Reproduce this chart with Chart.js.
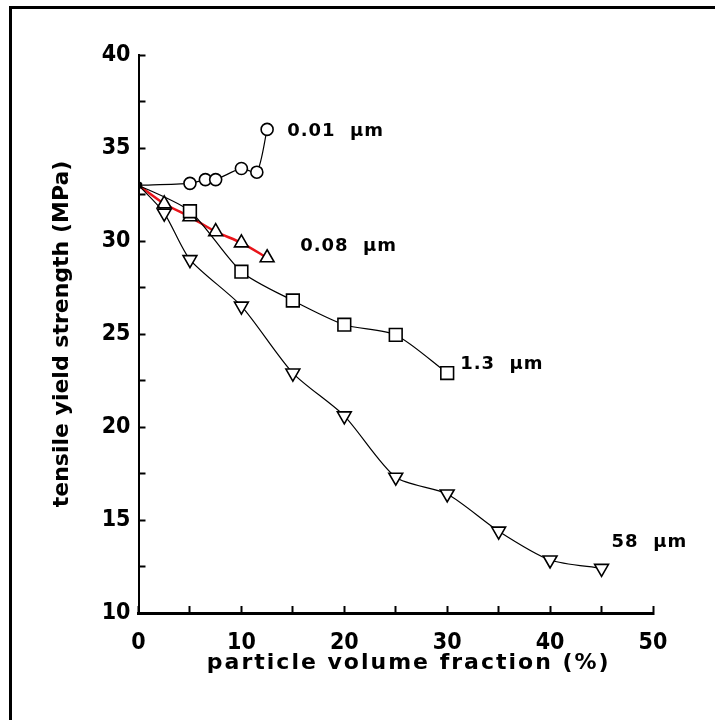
<!DOCTYPE html>
<html>
<head>
<meta charset="utf-8">
<title>tensile yield strength vs particle volume fraction</title>
<script src="https://cdn.jsdelivr.net/npm/chart.js@4.4.1/dist/chart.umd.min.js"></script>
<style>
  html, body { margin: 0; padding: 0; background: #fff; overflow: hidden; }
  #wrap { position: relative; width: 715px; height: 720px; overflow: hidden; }
  #frame {
    position: absolute; left: 9px; top: 6px; width: 720px; height: 730px;
    border-left: 3px solid #000; border-top: 3px solid #000; pointer-events: none;
  }
</style>
</head>
<body>
<div id="wrap">
  <canvas id="chartCanvas" width="715" height="720"></canvas>
  <div id="frame"></div>
</div>
<script>
// particle size series (x = volume fraction %, y = MPa)
const seriesNames = ['0.01 µm', '0.08 µm', '1.3 µm', '58 µm'];

const fracCircle = [0, 5, 6.5, 7.5, 10, 11.5, 12.5];
const yieldCircle = [33, 33.1, 33.3, 33.3, 33.9, 33.7, 36.0];

const fracTriUp = [0, 2.5, 5, 7.5, 10, 12.5];
const yieldTriUp = [33, 32.0, 31.3, 30.5, 29.9, 29.1];

const fracSquare = [0, 5, 10, 15, 20, 25, 30];
const yieldSquare = [33, 31.6, 28.35, 26.8, 25.5, 24.95, 22.9];

const fracTriDown = [0, 2.5, 5, 10, 15, 20, 25, 30, 35, 40, 45];
const yieldTriDown = [33, 31.5, 29.0, 26.5, 22.9, 20.6, 17.3, 16.4, 14.4, 12.85, 12.4];

const xTicks = [0, 10, 20, 30, 40, 50];
const yTicks = [10, 15, 20, 25, 30, 35, 40];

function toPoints(xs, ys) {
  return xs.map((x, i) => ({ x: x, y: ys[i] }));
}

function makeSet(name, xs, ys, style, size, extra) {
  return Object.assign({
    label: name,
    data: toPoints(xs, ys),
    showLine: true,
    borderColor: '#000',
    borderWidth: 1.2,
    tension: 0.25,
    pointStyle: style,
    pointRadius: (c) => c.dataIndex === 0 ? 3 : size,
    pointBackgroundColor: (c) => c.dataIndex === 0 ? '#000' : '#fff',
    pointBorderColor: '#000',
    pointBorderWidth: 1.6,
    pointHoverRadius: size
  }, extra || {});
}

// text next to the last point of every curve
const curveLabels = {
  id: 'curveLabels',
  afterDatasetsDraw(chart) {
    const ctx = chart.ctx;
    ctx.save();
    ctx.font = 'bold 18px "DejaVu Sans"';
    ctx.letterSpacing = '1px';
    ctx.fillStyle = '#000';
    ctx.textBaseline = 'middle';
    ctx.textAlign = 'left';
    chart.data.datasets.forEach((ds, i) => {
      const el = chart.getDatasetMeta(i).data;
      const last = el[el.length - 1];
      ctx.fillText(ds.label.replace(' ', '  '), last.x + ds.labelDx, last.y + ds.labelDy);
    });
    ctx.restore();
  }
};

// x axis title, spaced letters
const xTitle = {
  id: 'xTitle',
  afterDraw(chart) {
    const ctx = chart.ctx;
    const a = chart.chartArea;
    ctx.save();
    ctx.font = 'bold 22px "DejaVu Sans"';
    ctx.letterSpacing = '2px';
    ctx.fillStyle = '#000';
    ctx.textAlign = 'center';
    ctx.textBaseline = 'middle';
    ctx.fillText('particle volume fraction (%)', (a.left + a.right) / 2 + 13, a.bottom + 50);
    ctx.restore();
  }
};

const tickFont = { family: '"Liberation Sans Narrow", "DejaVu Sans Condensed", sans-serif', size: 23, weight: 'bold' };

const ctx = document.getElementById('chartCanvas').getContext('2d');
new Chart(ctx, {
  type: 'scatter',
  data: {
    datasets: [
      makeSet(seriesNames[0], fracCircle, yieldCircle, 'circle', 6, { labelDx: 20, labelDy: 2 }),
      makeSet(seriesNames[1], fracTriUp, yieldTriUp, 'triangle', 8, { borderColor: '#e8141a', borderWidth: 2.5, labelDx: 33, labelDy: -11, order: 1 }),
      makeSet(seriesNames[2], fracSquare, yieldSquare, 'rect', 9, { labelDx: 13, labelDy: -9 }),
      makeSet(seriesNames[3], fracTriDown, yieldTriDown, 'triangle', 8, { rotation: 180, labelDx: 10, labelDy: -26 })
    ]
  },
  options: {
    responsive: false,
    animation: false,
    layout: { padding: { left: 0, right: 62, top: 55, bottom: 0 } },
    plugins: {
      legend: { display: false },
      tooltip: { enabled: false }
    },
    scales: {
      x: {
        type: 'linear',
        min: 0,
        max: 50,
        afterFit: (s) => { s.height = 107; },
        afterBuildTicks: (s) => {
          s.ticks = [];
          for (let v = 0; v <= 50; v += 5) s.ticks.push({ value: v });
        },
        ticks: {
          color: '#000',
          font: tickFont,
          padding: 23,
          maxRotation: 0,
          callback: (v) => xTicks.includes(v) ? v : ''
        },
        grid: { drawOnChartArea: false, tickLength: -7, tickColor: '#000', tickWidth: 2 },
        border: { display: true, color: '#000', width: 3 }
      },
      y: {
        type: 'linear',
        min: 10,
        max: 40,
        afterFit: (s) => { s.width = 138.5; },
        afterBuildTicks: (s) => {
          s.ticks = [];
          for (let v = 10; v <= 40; v += 2.5) s.ticks.push({ value: v });
        },
        ticks: {
          color: '#000',
          font: tickFont,
          padding: 15,
          callback: (v) => yTicks.includes(v) ? v : ''
        },
        grid: { drawOnChartArea: false, tickLength: -7, tickColor: '#000', tickWidth: 2 },
        border: { display: true, color: '#000', width: 2 },
        title: {
          display: true,
          text: 'tensile yield strength (MPa)',
          color: '#000',
          font: { family: '"DejaVu Sans"', size: 22, weight: 'bold' },
          padding: { top: 49, bottom: 0 }
        }
      }
    }
  },
  plugins: [curveLabels, xTitle]
});
</script>
</body>
</html>
